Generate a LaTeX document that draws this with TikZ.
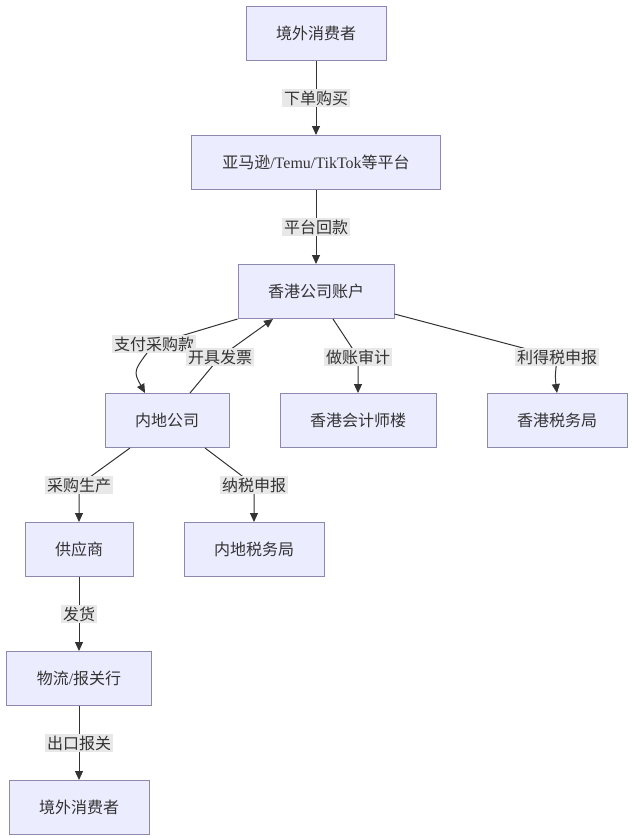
\documentclass[tikz,border=0pt]{standalone}
\usepackage{fontspec}
\setmainfont{Liberation Serif}
\newfontfamily\cjk{Noto Sans CJK SC}
\usetikzlibrary{arrows.meta,positioning}
\definecolor{boxfill}{HTML}{ECECFF}
\definecolor{boxline}{HTML}{8F88AE}
\definecolor{lblfill}{HTML}{E8E8E8}
\definecolor{ink}{HTML}{333333}

\begin{document}
\begin{tikzpicture}[
    x=1pt, y=1pt,
    comp/.style={draw=boxline, line width=1pt, fill=boxfill, minimum height=54pt, inner xsep=30pt, text=ink, font=\cjk\fontsize{16}{19}\selectfont},
    lbl/.style={fill=lblfill, inner sep=2pt, text=ink, font=\cjk\fontsize{16}{19}\selectfont},
    arrow/.style={-{Triangle[length=9pt,width=8pt]}, line width=1pt, draw=ink},
    node distance=74pt
]
\useasboundingbox (0,0) rectangle (633,-838);

\node[comp] (buyer) at (316,-33.5) {境外消费者};
\node[comp, below=of buyer, minimum width=249pt] (plat) {亚马逊{\rmfamily/Temu/TikTok}等平台};
\node[comp, below=of plat] (hk) {香港公司账户};
\node[comp, below=of hk, xshift=-149pt] (mc) {内地公司};
\node[comp, below=of hk, xshift=42pt] (acct) {香港会计师楼};
\node[comp, below=of hk, xshift=241pt] (hktax) {香港税务局};
\node[comp, below=of mc, xshift=-88pt] (sup) {供应商};
\node[comp, below=of mc, xshift=87pt] (mtax) {内地税务局};
\node[comp, below=of sup] (logi) {物流{\rmfamily/}报关行};
\node[comp, below=of logi] (buyer2) {境外消费者};

\draw[arrow] (buyer) -- node[lbl] {下单购买} (plat);
\draw[arrow] (plat) -- node[lbl] {平台回款} (hk);
\draw[arrow] (hk.south west) -- ([xshift=-13pt,yshift=49pt]mc.north) node[lbl] {支付采购款}
    .. controls ([xshift=-34pt,yshift=22pt]mc.north) .. ([xshift=-22pt]mc.north);
\draw[arrow] ([xshift=23pt]mc.north) -- ([xshift=53pt,yshift=36pt]mc.north) node[lbl] {开具发票} -- ([xshift=-43pt]hk.south);
\draw[arrow] ([xshift=17pt]hk.south) -- ([yshift=36pt]acct.north) node[lbl] {做账审计} -- (acct.north);
\draw[arrow] ([yshift=5pt]hk.south east) -- ([yshift=36pt]hktax.north) node[lbl] {利得税申报}
    .. controls ([xshift=-2pt,yshift=15pt]hktax.north) .. (hktax.north);
\draw[arrow] ([xshift=-37pt]mc.south) -- ([yshift=37pt]sup.north) node[lbl] {采购生产} -- (sup.north);
\draw[arrow] ([xshift=38pt]mc.south) -- ([yshift=37pt]mtax.north) node[lbl] {纳税申报} -- (mtax.north);
\draw[arrow] (sup) -- node[lbl] {发货} (logi);
\draw[arrow] (logi) -- node[lbl] {出口报关} (buyer2);

\end{tikzpicture}
\end{document}
